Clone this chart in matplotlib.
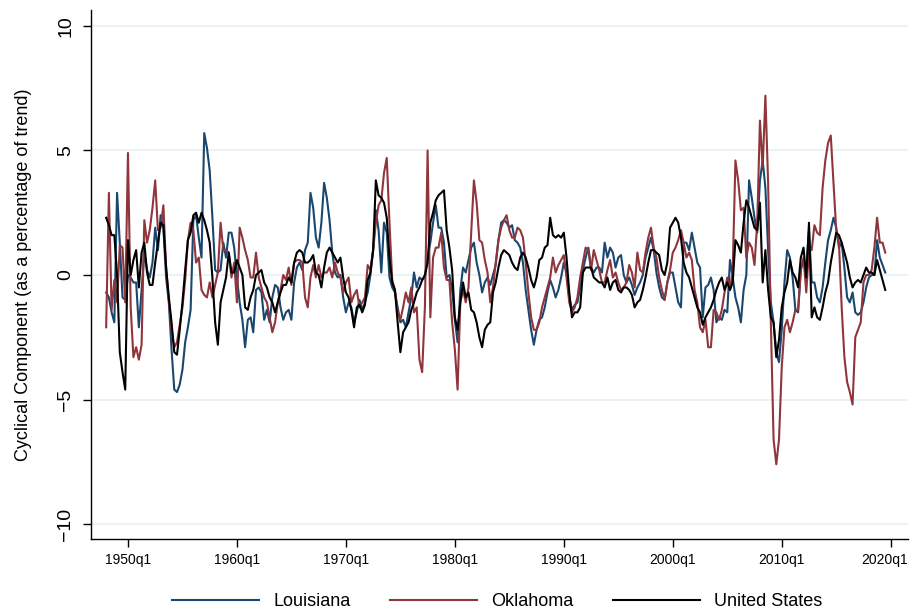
import numpy as np
import matplotlib
matplotlib.use("Agg")
import matplotlib.pyplot as plt
import matplotlib.transforms as mtransforms


# ----------------------------
# Data: cyclical component, quarterly, 1948q1 - 2019q3
# ----------------------------
START_YEAR = 1948

louisiana = [
    -0.7, -0.9, -1.5, -1.9, 3.3, 1.3, -0.9, -1.0, 0.0, -0.1,
    -0.3, -0.3, -2.1, -0.6, 0.9, 0.2, -0.1, 0.5, 1.9, 1.0,
    2.4, 1.9, -0.1, -1.1, -3.0, -4.6, -4.7, -4.4, -3.8, -2.7,
    -2.1, -1.4, 2.2, 2.4, 1.5, 0.7, 5.7, 5.1, 4.2, 2.3,
    0.2, 0.1, 0.2, 1.3, 0.7, 1.7, 1.7, 1.1, -0.1, -1.1,
    -1.8, -2.9, -1.8, -1.7, -2.3, -0.6, -0.5, -0.7, -1.8, -1.4,
    -1.9, -0.9, -0.4, -0.5, -1.3, -1.8, -1.5, -1.4, -1.8, -0.3,
    0.3, 0.5, 0.2, 1.0, 1.3, 3.3, 2.7, 1.5, 1.1, 2.1,
    3.7, 3.1, 2.2, 0.9, 0.1, -0.1, 0.0, -0.9, -1.5, -1.1,
    -1.3, -1.9, -1.5, -1.0, -1.4, -1.1, -0.7, 0.0, 1.0, 2.6,
    1.8, 0.1, 2.1, 1.7, -0.1, -0.5, -0.7, -1.3, -1.9, -1.8,
    -2.1, -1.5, -0.9, 0.1, -0.5, -0.1, -0.2, -0.1, 0.7, 1.3,
    2.1, 2.8, 1.9, 1.9, 1.3, -0.1, 0.0, -0.6, -1.8, -2.7,
    -0.6, 0.3, 0.1, 0.6, 1.1, 1.3, 0.5, 0.0, -0.7, -0.3,
    -0.1, -0.4, 0.0, 0.4, 1.4, 2.1, 2.2, 2.1, 1.9, 2.0,
    1.4, 1.3, 1.1, 0.5, -0.6, -1.4, -2.2, -2.8, -2.2, -1.8,
    -1.7, -1.3, -0.7, -0.2, -0.5, -0.9, -0.6, -0.1, 0.5, 0.1,
    -0.9, -1.4, -1.2, -1.1, -0.5, 0.2, 0.7, 1.1, 0.3, 0.1,
    0.3, 0.3, 0.1, 1.3, 0.7, 1.1, 0.9, 0.3, 0.7, 0.8,
    0.0, -0.3, -0.1, -0.4, -0.8, -0.5, -0.3, 0.0, 0.7, 1.1,
    1.5, 1.0, 0.1, -0.5, -0.9, -1.0, -0.3, 0.1, 0.1, -0.5,
    -1.1, -1.3, 1.3, 1.3, 1.0, 1.7, 1.1, 0.5, 0.3, -1.7,
    -0.5, -0.4, -0.1, -0.6, -1.9, -1.7, -1.8, -1.4, -1.5, 0.6,
    -0.1, -0.9, -1.3, -1.9, -0.6, 0.0, 3.8, 3.1, 2.3, 1.7,
    3.8, 4.6, 3.5, 1.0, -1.1, -1.9, -3.1, -3.5, -2.2, -0.3,
    1.0, 0.7, -0.1, -1.4, -1.5, 0.2, 0.6, 0.2, 1.8, -0.3,
    -0.3, -0.9, -1.1, -0.5, 0.5, 1.4, 1.8, 2.3, 1.9, 1.1,
    1.3, 0.3, -0.9, -1.1, -0.7, -1.5, -1.6, -1.5, -1.1, -0.5,
    -0.1, 0.0, 0.0, 1.4, 0.7, 0.4, 0.1,
]

oklahoma = [
    -2.1, 3.3, -1.4, -0.2, -1.1, 1.2, 1.1, -1.1, 4.9, -1.3,
    -3.3, -2.9, -3.4, -2.8, 2.2, 1.3, 1.8, 2.7, 3.8, 1.8,
    1.9, 2.8, 0.3, -1.0, -2.2, -2.9, -2.7, -2.0, -1.3, -0.2,
    1.4, 2.1, 1.8, 0.5, 0.7, -0.6, -0.8, -0.9, -0.3, -0.9,
    -0.4, 0.1, 2.1, 1.0, 1.0, 0.9, -0.1, 0.5, -1.1, 1.9,
    1.5, 1.0, 0.6, -0.1, -0.1, 0.9, -0.1, -0.5, -0.9, -1.1,
    -1.7, -2.3, -1.9, -1.1, -0.6, 0.0, -0.2, 0.3, -0.4, 0.5,
    0.6, 0.6, 0.5, -0.9, -1.3, -0.1, 0.4, -0.1, 0.4, -0.1,
    0.1, 0.1, 0.3, -0.1, 0.5, 0.1, -0.1, -0.7, -0.3, -0.1,
    -1.1, -0.8, -0.6, -1.3, -1.1, -0.9, 0.4, 0.2, 1.0, 2.1,
    2.8, 3.0, 4.1, 4.7, 2.1, -0.2, -0.6, -1.5, -1.8, -1.3,
    -0.7, -1.1, -0.5, -1.5, -1.3, -3.4, -3.9, -1.3, 5.0, -1.7,
    0.7, 1.1, 1.1, 1.7, 0.3, -0.2, -0.2, -1.9, -3.0, -4.6,
    -1.1, -0.6, -1.1, -0.5, 1.7, 3.8, 2.9, 1.4, 1.3, 0.6,
    0.1, -1.1, -0.5, 0.5, 1.4, 1.9, 2.2, 2.4, 1.8, 1.5,
    1.5, 1.9, 1.8, 1.5, 0.5, -0.7, -1.7, -2.2, -2.2, -1.9,
    -1.3, -0.9, -0.5, -0.1, 0.7, 0.1, 0.4, 0.6, 0.8, -0.1,
    -1.1, -1.5, -1.3, -0.9, -0.1, 0.5, 1.1, 1.0, 0.2, 1.0,
    0.6, 0.2, -0.3, -0.3, 0.2, 0.6, -0.1, 0.1, -0.3, -0.6,
    -0.5, -0.3, 0.4, 0.1, -0.5, 0.9, 0.2, 0.1, 0.9, 1.5,
    1.9, 1.1, 0.7, -0.1, -0.6, -1.0, -0.3, 0.2, 0.9, 1.1,
    1.4, 1.8, 1.3, 0.7, 0.9, 0.6, -0.6, -1.1, -2.1, -2.3,
    -1.8, -2.9, -2.9, -1.4, -1.5, -1.8, -1.4, -0.7, -0.1, -0.6,
    0.2, 4.6, 3.8, 2.6, 2.7, 0.7, 1.3, 1.1, 0.4, 2.1,
    6.2, 4.3, 7.2, 3.7, -1.9, -6.6, -7.6, -6.6, -3.7, -2.1,
    -1.8, -2.3, -1.9, -1.4, -1.4, 0.2, 0.7, -0.7, 1.0, 1.0,
    2.0, 1.7, 1.6, 3.5, 4.6, 5.3, 5.6, 3.7, 1.8, 1.3,
    -1.3, -3.3, -4.3, -4.7, -5.2, -2.5, -2.2, -1.9, -0.3, 0.0,
    0.0, 0.2, 1.1, 2.3, 1.3, 1.3, 0.9,
]

united_states = [
    2.3, 2.0, 1.6, 1.6, 0.0, -3.1, -3.9, -4.6, 1.4, 0.0,
    0.6, 1.0, -0.5, 0.9, 1.3, 0.1, -0.4, -0.4, 0.5, 1.3,
    2.1, 2.0, 0.3, -0.9, -1.9, -3.1, -3.2, -2.2, -1.1, 0.2,
    1.4, 1.7, 2.4, 2.5, 2.1, 2.5, 2.2, 1.8, 1.3, -0.1,
    -1.9, -2.8, -1.1, -0.6, -0.1, 0.9, 0.1, 0.1, 0.6, 0.3,
    0.0, -1.3, -1.4, -0.9, -0.6, 0.0, 0.1, 0.2, -0.3, -0.5,
    -0.9, -1.1, -1.5, -1.1, -0.7, -0.4, -0.4, -0.1, -0.3, 0.5,
    0.9, 1.0, 0.9, 0.5, 0.5, 0.6, 0.8, 0.1, 0.0, -0.5,
    0.3, 0.9, 1.1, 0.9, 0.7, 0.5, 0.7, -0.1, -0.7, -0.9,
    -1.4, -2.1, -1.3, -1.2, -1.5, -1.2, -0.2, 0.1, 1.0, 3.8,
    3.2, 3.1, 2.9, 2.3, 0.7, -0.3, -0.6, -1.9, -3.1, -2.3,
    -2.1, -1.9, -1.4, -1.1, -0.7, -0.5, -0.2, 0.0, 0.5, 2.1,
    2.5, 3.0, 3.2, 3.3, 3.4, 1.8, 1.1, 0.2, -1.7, -2.2,
    -1.1, -0.3, -0.9, -0.7, -1.4, -1.5, -1.9, -2.5, -2.9, -2.2,
    -2.0, -1.9, -0.7, -0.3, 0.3, 0.8, 1.0, 0.9, 0.8, 0.5,
    0.3, 0.2, 0.7, 0.9, 0.7, 0.3, -0.2, -0.5, -0.1, 0.6,
    0.7, 1.1, 1.2, 2.3, 1.6, 1.5, 1.6, 1.5, 1.7, 0.7,
    -0.7, -1.7, -1.5, -1.5, -1.3, 0.1, 0.3, 0.3, 0.3, -0.1,
    -0.2, -0.3, -0.3, -0.5, -0.1, -0.6, -0.3, -0.2, -0.6, -0.7,
    -0.5, -0.5, -0.6, -0.8, -1.3, -1.1, -1.0, -0.6, -0.1, 0.5,
    1.0, 1.0, 0.9, 0.8, 0.2, 0.0, 0.5, 1.9, 2.1, 2.3,
    2.1, 1.5, 0.5, 0.1, -0.1, -0.5, -0.9, -1.3, -1.5, -2.0,
    -1.7, -1.5, -1.3, -1.0, -0.6, -0.3, -0.1, -0.6, -0.3, -0.6,
    -0.3, 1.4, 1.2, 0.9, 2.1, 3.0, 2.7, 2.3, 1.9, 1.8,
    2.9, -0.3, 1.0, -0.6, -1.7, -1.9, -3.3, -2.6, -1.3, -0.7,
    -0.3, 0.6, 0.1, -0.1, -0.5, 0.7, 1.1, -0.1, 2.1, -1.7,
    -1.3, -1.7, -1.8, -1.3, -0.7, -0.3, 0.5, 1.1, 1.7, 1.6,
    1.3, 0.9, 0.5, -0.1, -0.5, -0.3, -0.2, -0.3, 0.0, 0.3,
    0.1, 0.1, 0.0, 0.6, 0.2, -0.2, -0.6,
]

series_names = ["Louisiana", "Oklahoma", "United States"]
series_colors = ["#1A476F", "#90353B", "#000000"]

x_tick_years = [1950, 1960, 1970, 1980, 1990, 2000, 2010, 2020]
x_tick_labels = [f"{year}q1" for year in x_tick_years]
y_ticks = [-10, -5, 0, 5, 10]
y_tick_labels = ["\u221210", "\u22125", "0", "5", "10"]


# ----------------------------
# Helpers
# ----------------------------
def quarter_axis(n_points):
    """Return fractional years for n quarters starting at START_YEAR q1."""
    return START_YEAR + np.arange(n_points) / 4.0


# ----------------------------
# Plot
# ----------------------------
plt.rcParams["font.family"] = ["Liberation Sans", "DejaVu Sans"]

fig = plt.figure(figsize=(9.11, 6.11), dpi=100)
ax = fig.add_axes([90.7 / 911, 72 / 611, 817 / 911, 529 / 611])

for values, name, color in zip([louisiana, oklahoma, united_states],
                               series_names, series_colors):
    ax.plot(quarter_axis(len(values)), values, color=color,
            linewidth=1.5, label=name)

for level in y_ticks:
    ax.axhline(level, color="#EAF2F3", linewidth=1.4, zorder=0)

ax.set_xlim(1946.58, 2021.56)
ax.set_ylim(-10.6, 10.64)

ax.set_xticks(x_tick_years)
ax.set_xticklabels(x_tick_labels, fontsize=10)
ax.set_yticks(y_ticks)
ax.set_yticklabels(y_tick_labels, fontsize=14, rotation=90, va="center")
ax.tick_params(axis="x", length=6, width=1, pad=4)
ax.tick_params(axis="y", length=6, width=1, pad=6)

# keep the last x label inside the figure edge
last_label = ax.get_xticklabels()[-1]
shift = mtransforms.ScaledTranslation(-6 / 100, 0, fig.dpi_scale_trans)
last_label.set_transform(last_label.get_transform() + shift)

ax.set_ylabel("Cyclical Component (as a percentage of trend)", fontsize=13,
              labelpad=18)

for side in ["top", "right"]:
    ax.spines[side].set_visible(False)
for side in ["left", "bottom"]:
    ax.spines[side].set_linewidth(1.0)

fig.legend(loc="center", bbox_to_anchor=(0.546, 0.015), ncol=3,
           frameon=False, fontsize=13, handlelength=4.8,
           handletextpad=0.8, columnspacing=2.2)

fig.savefig("out.png", dpi=100)
plt.close(fig)
